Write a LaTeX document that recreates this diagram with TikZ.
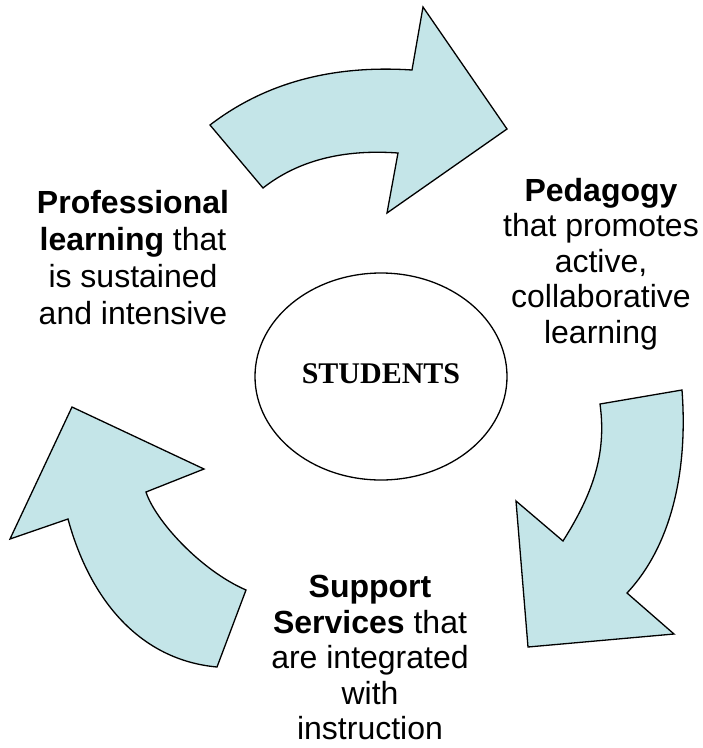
\documentclass[tikz,border=0pt]{standalone}
\usepackage{fontspec}
\setmainfont{Liberation Sans}
\newfontfamily\hubfont{Liberation Serif}
\usepackage{xcolor}
\usepackage{tikz}
\usetikzlibrary{shapes,positioning}
\definecolor{arrowfill}{RGB}{196,229,232}

\begin{document}
\begin{tikzpicture}[x=1pt, y=-1pt,
    cyclearrow/.style={draw=black, fill=arrowfill, line width=1.3pt, line join=miter},
    phase/.style={align=center, inner sep=0pt, anchor=north, font=\fontsize{32}{35.5}\selectfont},
    hub/.style={draw, ellipse, line width=1.3pt, minimum width=252pt, minimum height=207pt, inner sep=0pt, font=\hubfont\bfseries\fontsize{30}{36}\selectfont}]
    \useasboundingbox (0,0) rectangle (703,748);

    % Students
    \node[hub] (students) at (381,376.5) {\raisebox{5pt}{STUDENTS}\hspace{8pt}};

    % Top arrow
    \draw[cyclearrow] (210,125) .. controls (264.7,83) and (332,64.7) .. (412,70) -- (423,7) -- (507,129)
        -- (387,213) -- (398,153) .. controls (342.7,149) and (297.7,160.7) .. (263,188) -- cycle;

    % Right arrow
    \draw[cyclearrow] (600,404) -- (682,390) .. controls (688,470) and (672,545) .. (627,593) -- (674,634)
        -- (528,647) -- (516,501) -- (563,541) .. controls (592,495) and (607,455) .. (600,404) -- cycle;

    % Left arrow
    \draw[cyclearrow] (217,667) -- (246,590) .. controls (200,570) and (155,520) .. (146,492) -- (204,469)
        -- (72,407) -- (10,539) -- (68,519) .. controls (90,600) and (140,660) .. (217,667) -- cycle;

    % Labels
    \node[phase, font=\fontsize{32}{37}\selectfont] (professional) at (133,190) {\textbf{Professional}\\\textbf{learning} that\\is sustained\\and intensive};
    \node[phase] (pedagogy) at (601,178) {\textbf{Pedagogy}\\that promotes\\active,\\collaborative\\learning};
    \node[phase] (support) at (370,575) {\textbf{Support}\\\textbf{Services} that\\are integrated\\with\\instruction};
\end{tikzpicture}
\end{document}
